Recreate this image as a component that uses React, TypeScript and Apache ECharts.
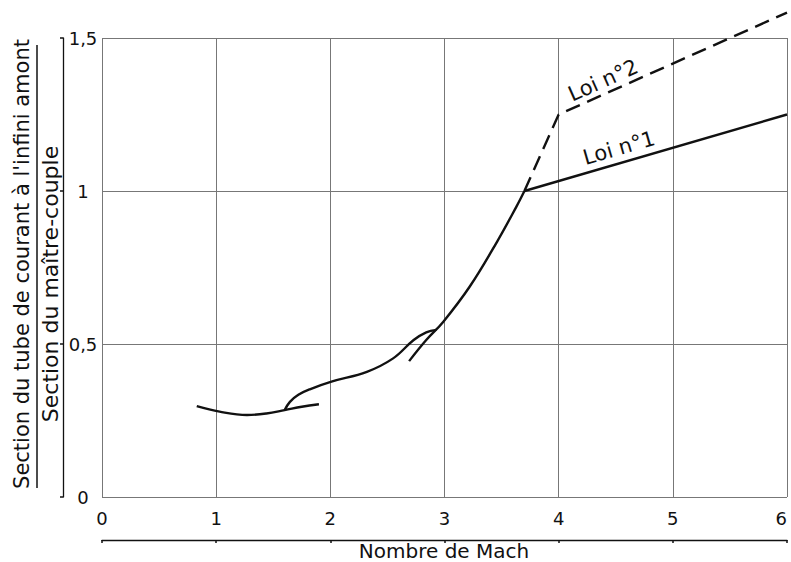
import React, { useEffect, useRef } from "react";
import * as echarts from "echarts";

// Grid ticks
const xTicks = [0, 1, 2, 3, 4, 5, 6];
const yTicks = [0, 0.5, 1, 1.5];

// Curves: [Mach, section ratio]
const curveA = [
  [0.83, 0.297], [1.03, 0.279], [1.27, 0.268], [1.44, 0.273], [1.6, 0.284], [1.75, 0.295], [1.9, 0.303],
];
const curveB = [
  [1.6, 0.284], [1.646, 0.311], [1.72, 0.334], [1.82, 0.352], [2.01, 0.377], [2.32, 0.409],
  [2.55, 0.453], [2.73, 0.513], [2.84, 0.538], [2.93, 0.546],
];
const curveC = [
  [2.69, 0.444], [2.84, 0.513], [2.99, 0.573], [3.22, 0.687], [3.46, 0.834], [3.63, 0.949], [3.7, 1.0],
];
const loi1 = [[3.7, 1.0], [6, 1.25]];
const loi2 = [[3.7, 1.0], [4.0, 1.25], [6, 1.583]];

const yTitleTop = "Section du tube de courant à l'infini amont";
const yTitleBottom = "Section du maître-couple";
const xTitle = "Nombre de Mach";
const loi1Label = "Loi n°1";
const loi2Label = "Loi n°2";

const FONT = "DejaVu Sans";
const INK = "#111";

export default function App() {
  const ref = useRef<HTMLDivElement>(null);
  useEffect(() => {
    if (!ref.current) return;
    const chart = echarts.init(ref.current, null, { renderer: "svg" });
    const lineSeries = (data: number[][], extra: any = {}) => ({
      type: "line",
      data,
      xAxisIndex: 0,
      yAxisIndex: 0,
      showSymbol: false,
      symbol: "none",
      smooth: 0.4,
      lineStyle: { color: INK, width: 2.4 },
      ...extra,
    });
    chart.setOption({
      animation: false,
      backgroundColor: "#fff",
      textStyle: { fontFamily: FONT, color: INK },
      grid: { left: 102, right: 4, top: 38, bottom: 65, containLabel: false, outerBoundsMode: "none" },
      xAxis: [
        {
          type: "value", min: xTicks[0], max: xTicks[xTicks.length - 1], interval: 1,
          axisLine: { show: false }, axisTick: { show: false }, axisLabel: { show: false },
          splitLine: { show: true, lineStyle: { color: "#777", width: 1 } },
        },
        {
          type: "value", min: xTicks[0], max: xTicks[xTicks.length - 1], interval: 1,
          position: "bottom", offset: 43,
          axisLine: { show: true, onZero: false, lineStyle: { color: INK, width: 1.3 } },
          axisTick: { show: true, length: 3, lineStyle: { color: INK, width: 1.5 } },
          axisLabel: {
            show: true, inside: true, margin: 13, fontSize: 18, color: INK, fontFamily: FONT,
            alignMaxLabel: "right",
          },
          splitLine: { show: false },
        },
      ],
      yAxis: [
        {
          type: "value", min: yTicks[0], max: yTicks[yTicks.length - 1], interval: 0.5,
          axisLine: { show: false }, axisTick: { show: false }, axisLabel: { show: false },
          splitLine: { show: true, lineStyle: { color: "#777", width: 1 } },
        },
        {
          type: "value", min: yTicks[0], max: yTicks[yTicks.length - 1], interval: 0.5,
          position: "left", offset: 39,
          axisLine: { show: true, onZero: false, lineStyle: { color: INK, width: 1.3 } },
          axisTick: { show: true, length: 3, lineStyle: { color: INK, width: 1.5 } },
          axisLabel: {
            show: true, inside: true, margin: 20, fontSize: 18, color: INK, fontFamily: FONT,
            align: "center", padding: [0, 0, 8, 0],
            formatter: (v: number) => String(v).replace(".", ","),
          },
          splitLine: { show: false },
        },
      ],
      graphic: [
        {
          type: "text", x: 22, y: 264, rotation: Math.PI / 2,
          style: { text: yTitleTop, fontSize: 21, fontFamily: FONT, fill: INK, textAlign: "center", textVerticalAlign: "middle" },
        },
        {
          type: "line", shape: { x1: 37, y1: 45, x2: 37, y2: 488 },
          style: { stroke: INK, lineWidth: 1.5 },
        },
        {
          type: "text", x: 50, y: 284, rotation: Math.PI / 2,
          style: { text: yTitleBottom, fontSize: 22, fontFamily: FONT, fill: INK, textAlign: "center", textVerticalAlign: "middle" },
        },
        {
          type: "text", x: 444, y: 551,
          style: { text: xTitle, fontSize: 20, fontFamily: FONT, fill: INK, textAlign: "center", textVerticalAlign: "middle" },
        },
        {
          type: "text", x: 603, y: 80, rotation: (24 * Math.PI) / 180,
          style: { text: loi2Label, fontSize: 21, fontFamily: FONT, fill: INK, textAlign: "center", textVerticalAlign: "middle" },
        },
        {
          type: "text", x: 619, y: 148, rotation: (16 * Math.PI) / 180,
          style: { text: loi1Label, fontSize: 21, fontFamily: FONT, fill: INK, textAlign: "center", textVerticalAlign: "middle" },
        },
      ],
      series: [
        lineSeries(curveA),
        lineSeries(curveB),
        lineSeries(curveC),
        lineSeries(loi1, { smooth: false }),
        lineSeries(loi2, { smooth: false, clip: false, lineStyle: { color: INK, width: 2.4, type: [15, 8] } }),
      ],
    });
    return () => chart.dispose();
  }, []);
  return <div ref={ref} style={{ position: "fixed", left: 0, top: 0, width: 791, height: 562 }} />;
}
